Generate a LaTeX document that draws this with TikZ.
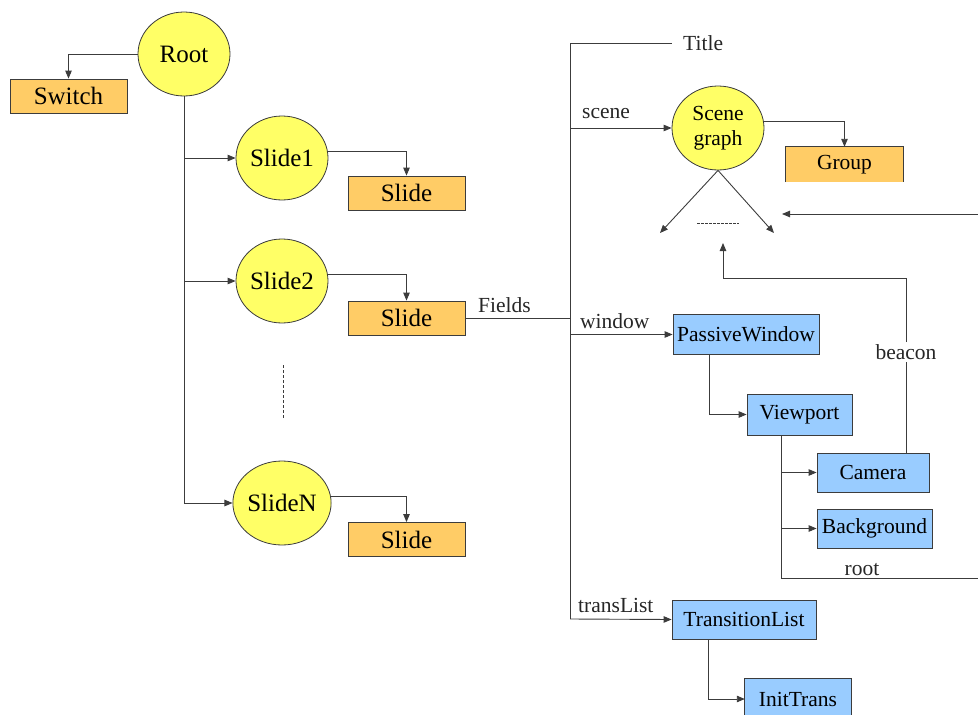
\documentclass[tikz,border=0pt]{standalone}
\usepackage{fontspec}
\setmainfont{Liberation Serif}
\usetikzlibrary{shapes.geometric,arrows.meta}
\definecolor{ovalfill}{HTML}{FFFF66}
\definecolor{slidefill}{HTML}{FFCC66}
\definecolor{fieldfill}{HTML}{99CCFF}
\definecolor{edge}{HTML}{3C3C3C}
\tikzset{
  conn/.style={draw=edge, line width=0.9pt},
  arr/.style={conn, -{Triangle[length=8pt,width=6.5pt]}},
  oval/.style={ellipse, draw=edge, line width=0.8pt, fill=ovalfill, inner sep=0pt,
               minimum width=92pt, minimum height=84pt, align=center},
  bigtxt/.style={font=\fontsize{25}{27}\selectfont},
  midtxt/.style={font=\fontsize{21.5}{22}\selectfont},
  slidebox/.style={rectangle, draw=edge, line width=0.8pt, fill=slidefill, inner sep=0pt,
               minimum width=117pt, minimum height=34pt, bigtxt},
  fieldbox/.style={rectangle, draw=edge, line width=0.8pt, fill=fieldfill, inner sep=0pt,
               minimum height=40pt, midtxt},
  lbl/.style={inner sep=0pt, midtxt, text=black!85}
}
\begin{document}
\begin{tikzpicture}[x=1pt,y=-1pt]
\useasboundingbox (0,0) rectangle (978,715);

% ---- presentation tree ----
\node[oval, bigtxt] (root) at (184,54) {Root};
\node[slidebox, minimum width=117pt] (switch) at (68.5,96) {Switch};

\node[oval, bigtxt] (s1) at (282,158) {Slide1};
\node[oval, bigtxt] (s2) at (282,281) {Slide2};
\node[oval, bigtxt] (sN) at (282,503) {SlideN};

\node[slidebox] (b1) at (406.5,193) {Slide};
\node[slidebox] (b2) at (406.5,318) {Slide};
\node[slidebox] (bN) at (406.5,539.5) {Slide};

\draw[arr] (root.west) -| (switch.north);
\draw[conn] (root.south) -- (root.south |- sN.west);
\foreach \s in {s1,s2,sN}
  \draw[arr] (root.south |- \s.west) -- (\s.west);
\draw[arr] (s1.8) -| (b1.north);
\draw[arr] (s2.8) -| (b2.north);
\draw[arr] (sN.8) -| (bN.north);
\draw[conn, dashed, dash pattern=on 3pt off 2pt] (283,365) -- (283,418);

% ---- field bus of the slide ----
\coordinate (bustop) at (570,43);
\coordinate (busbot) at (570,619);
\draw[conn] (b2.east) -- (b2.east -| bustop);
\node[lbl, anchor=south west] (fields) at (478,313) {Fields};
\draw[conn] (bustop) -- (busbot);

\node[lbl, anchor=west] (title) at (683,43) {Title};
\draw[conn] (bustop) -- (672,43);

% scene graph
\node[oval, font=\fontsize{21.5}{25}\selectfont, fill=ovalfill] (sg) at (718,128) {Scene\\graph};
\node[lbl, anchor=south west] (scenelbl) at (582,119) {scene};
\draw[arr] (bustop |- sg.west) -- (sg.west);

\node[rectangle, fill=slidefill, inner sep=0pt, minimum width=117pt, minimum height=35pt, midtxt]
  (group) at (844.5,164.5) {Group};
\draw[edge, line width=0.8pt] (group.south west) -- (group.north west) -- (group.north east) -- (group.south east);
\draw[arr] (sg.8) -| (group.north);

\coordinate (kidl) at (660,233);
\coordinate (kidr) at (774,233);
\draw[arr] (sg.south) -- (kidl);
\draw[arr] (sg.south) -- (kidr);
\draw[conn, line width=0.6pt, dash pattern=on 2.5pt off 1.5pt] (697,223) -- (739,223);

\coordinate (rootin) at (978,214);
\coordinate (roottip) at (782,214);
\draw[arr] (rootin) -- (roottip);

% window branch
\node[fieldbox, minimum width=146pt] (pw) at (746,334.5) {PassiveWindow};
\node[lbl, anchor=south west] (winlbl) at (580,329) {window};
\draw[arr] (bustop |- pw.west) -- (pw.west);

\node[fieldbox, minimum width=105pt, minimum height=41pt] (vp) at (799.5,414.5) {Viewport};
\draw[arr] (709,355) |- (vp.west);

\node[fieldbox, minimum width=112pt, minimum height=39pt] (cam) at (873,472.5) {Camera};
\node[fieldbox, minimum width=115pt, minimum height=39pt] (bg) at (874.5,528.5) {Background};

\coordinate (vpx) at (781,435);
\coordinate (rootend) at (978,578);
\draw[conn] (vpx) |- (rootend);
\draw[arr] (vpx |- cam.west) -- (cam.west);
\draw[arr] (vpx |- bg.west) -- (bg.west);
\node[lbl, anchor=south] (rootlbl) at (862,576) {root};

% beacon back to the scene graph
\node[lbl, fill=white, inner sep=2pt] (beacon) at (906,352) {beacon};
\coordinate (bcorner) at (906,278);
\coordinate (bleft) at (723,278);
\coordinate (btip) at (723,243);
\draw[conn] (906,453) -- (beacon.south);
\draw[arr] (beacon.north) -- (bcorner) -- (bleft) -- (btip);

% transition list
\node[fieldbox, minimum width=144pt, minimum height=39pt] (tl) at (744,619.5) {TransitionList};
\node[lbl, anchor=south west] (tlbl) at (578,613) {transList};
\draw[arr] (busbot) -- (tl.west);

\node[rectangle, fill=fieldfill, inner sep=0pt, minimum width=106pt, minimum height=40pt, midtxt]
  (it) at (798,699) {InitTrans};
\draw[edge, line width=0.8pt] (it.south west) -- (it.north west) -- (it.north east) -- (it.south east);
\draw[arr] (708,639) |- (it.west);
\end{tikzpicture}
\end{document}
